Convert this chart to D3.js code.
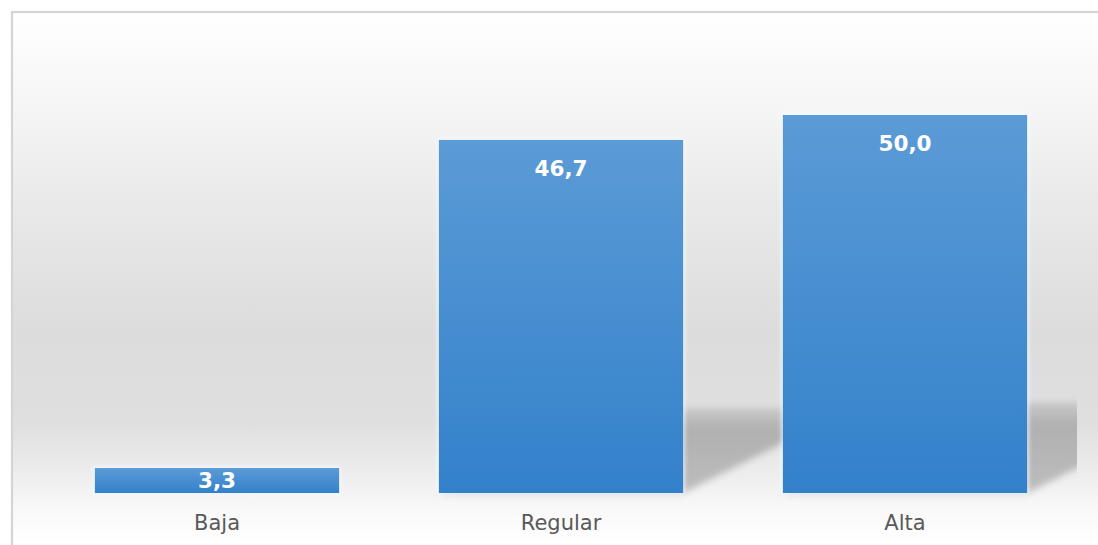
<!DOCTYPE html>
<html>
<head>
<meta charset="utf-8">
<script src="https://cdn.jsdelivr.net/npm/d3@7"></script>
<style>
  html, body { margin: 0; padding: 0; background: #ffffff; }
  svg { display: block; }
</style>
</head>
<body>
<script>
// Nivel de valoración (%)
const categories = ["Baja", "Regular", "Alta"];
const values = [3.3, 46.7, 50.0];
const valueLabels = ["3,3", "46,7", "50,0"];

const W = 1098, H = 545;
const svg = d3.select("body").append("svg").attr("width", W).attr("height", H);
const defs = svg.append("defs");

// chart background: soft vertical grey gradient
const bg = defs.append("linearGradient").attr("id", "bgGrad")
  .attr("gradientUnits", "userSpaceOnUse").attr("x1", 0).attr("y1", 12).attr("x2", 0).attr("y2", 545);
[[0, "#ffffff"], [0.17, "#f6f6f6"], [0.35, "#eaeaea"], [0.6, "#dcdcdc"], [0.77, "#dfdfdf"],
 [0.86, "#ececec"], [0.93, "#f8f8f8"], [1, "#ffffff"]]
  .forEach(([o, c]) => bg.append("stop").attr("offset", o).attr("stop-color", c));

// bar fill
const barGrad = defs.append("linearGradient").attr("id", "barGrad")
  .attr("x1", 0).attr("y1", 0).attr("x2", 0).attr("y2", 1);
barGrad.append("stop").attr("offset", 0).attr("stop-color", "#5b9bd6");
barGrad.append("stop").attr("offset", 1).attr("stop-color", "#3381cb");

// perspective shadow fill
const shGrad = defs.append("linearGradient").attr("id", "shGrad")
  .attr("x1", 0).attr("y1", 0).attr("x2", 0).attr("y2", 1);
shGrad.append("stop").attr("offset", 0).attr("stop-color", "#b2b2b2").attr("stop-opacity", 0.5);
shGrad.append("stop").attr("offset", 0.25).attr("stop-color", "#b0b0b0").attr("stop-opacity", 1);
shGrad.append("stop").attr("offset", 1).attr("stop-color", "#bdbdbd").attr("stop-opacity", 1);

const blur = defs.append("filter").attr("id", "shBlur")
  .attr("x", "-20%").attr("y", "-30%").attr("width", "140%").attr("height", "160%");
blur.append("feGaussianBlur").attr("stdDeviation", 3.5);

const glow = defs.append("filter").attr("id", "glow")
  .attr("x", "-10%").attr("y", "-10%").attr("width", "120%").attr("height", "120%");
glow.append("feGaussianBlur").attr("stdDeviation", 2);

// chart frame
svg.append("rect")
  .attr("x", 12).attr("y", 12).attr("width", W + 20).attr("height", H + 20)
  .attr("fill", "url(#bgGrad)").attr("stroke", "#d4d4d4").attr("stroke-width", 2.2);

// plot area
const plotLeft = 45, plotRight = 1077, baseY = 493;
const x = d3.scaleBand().domain(categories)
  .range([plotLeft, plotRight]).paddingInner(0.29).paddingOuter(0.145);
const y = d3.scaleLinear().domain([0, 50]).range([baseY, 115]);

defs.append("clipPath").attr("id", "plotClip")
  .append("rect").attr("x", plotLeft).attr("y", 0).attr("width", plotRight - plotLeft).attr("height", H);

// shadows cast up and to the right of each bar (too shallow to show for tiny bars)
const shadowScale = 0.24, skew = 2.0;
svg.append("g").attr("clip-path", "url(#plotClip)")
  .selectAll("path").data(values.filter(v => v > 10).map(v => values.indexOf(v))).join("path")
  .attr("d", i => {
    const v = values[i];
    const x0 = x(categories[i]), x1 = x0 + x.bandwidth();
    const sh = (baseY - y(v)) * shadowScale;
    return `M${x0},${baseY} L${x1},${baseY} L${x1 + skew * sh},${baseY - sh} L${x0 + skew * sh},${baseY - sh} Z`;
  })
  .attr("fill", "url(#shGrad)")
  .attr("filter", "url(#shBlur)");

// faint light halo round the bars
svg.append("g").selectAll("rect").data(values).join("rect")
  .attr("x", (v, i) => x(categories[i]) - 1.5)
  .attr("y", v => y(v) - 1.5)
  .attr("width", x.bandwidth() + 3)
  .attr("height", v => baseY - y(v) + 3)
  .attr("fill", "#f4f9ff").attr("opacity", 0.8)
  .attr("filter", "url(#glow)");

// bars
svg.append("g").selectAll("rect").data(values).join("rect")
  .attr("x", (v, i) => x(categories[i]))
  .attr("y", v => y(v))
  .attr("width", x.bandwidth())
  .attr("height", v => baseY - y(v))
  .attr("fill", "url(#barGrad)");

// value labels inside the bar top
svg.append("g").selectAll("text").data(values).join("text")
  .attr("x", (v, i) => x(categories[i]) + x.bandwidth() / 2)
  .attr("y", v => Math.min(y(v) + 36, (y(v) + baseY) / 2 + 7))
  .attr("text-anchor", "middle")
  .attr("font-family", "DejaVu Sans, Verdana, sans-serif")
  .attr("font-weight", "bold")
  .attr("font-size", 21.5)
  .attr("fill", "#ffffff")
  .text((v, i) => valueLabels[i]);

// category axis labels
const xAxis = d3.axisBottom(x).tickSize(0).tickPadding(0);
const ax = svg.append("g").attr("transform", `translate(0,${baseY})`).call(xAxis);
ax.select(".domain").remove();
ax.selectAll("text")
  .attr("dy", null).attr("y", 37)
  .attr("font-family", "DejaVu Sans, Verdana, sans-serif")
  .attr("font-size", 21)
  .attr("fill", "#595959");
</script>
</body>
</html>
